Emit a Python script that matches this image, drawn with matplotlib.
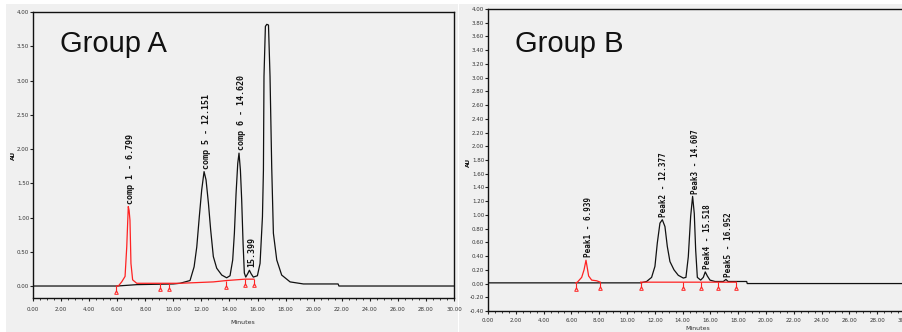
import numpy as np
import matplotlib
matplotlib.use("Agg")
import matplotlib.pyplot as plt
from matplotlib.patches import Rectangle
from matplotlib.ticker import MultipleLocator, FormatStrFormatter

# ---- Group A (left chromatogram), minutes / AU ----
a_black_t = [0, 6.0, 7.4, 10.0, 10.48, 11.19, 11.48, 11.67, 11.85, 12.02, 12.19, 12.33,
             12.50, 12.66, 12.85, 13.09, 13.45, 13.80, 14.04, 14.23, 14.35, 14.47, 14.59,
             14.68, 14.78, 14.87, 14.97, 15.06, 15.16, 15.30, 15.42, 15.54, 15.70, 15.99,
             16.18, 16.35, 16.42, 16.46, 16.56, 16.66, 16.78, 16.89, 17.01, 17.13, 17.37,
             17.72, 18.32, 19.27, 21.74, 21.80, 30.0]
a_black_v = [0, 0, 0.02, 0.03, 0.04, 0.08, 0.28, 0.57, 1.01, 1.40, 1.67, 1.55,
             1.21, 0.82, 0.43, 0.26, 0.16, 0.12, 0.15, 0.38, 0.77, 1.35, 1.79,
             1.94, 1.69, 1.26, 0.62, 0.19, 0.13, 0.18, 0.23, 0.18, 0.13, 0.15,
             0.33, 1.01, 1.69, 3.06, 3.79, 3.82, 3.81, 3.06, 1.74, 0.77, 0.38,
             0.16, 0.06, 0.03, 0.03, 0.0, 0.0]
a_red_t = [5.94, 6.08, 6.32, 6.56, 6.68, 6.79, 6.85, 6.91, 6.98, 7.10, 7.39, 7.86,
           10.5, 12.85, 13.80, 15.11, 15.74]
a_red_v = [0, 0, 0.06, 0.14, 0.57, 1.16, 1.10, 0.96, 0.33, 0.09, 0.04, 0.04,
           0.04, 0.06, 0.08, 0.10, 0.10]
a_marks = [5.94, 9.03, 9.70, 13.74, 15.14, 15.74]
a_peak_t = [6.79, 12.19, 14.68, 15.42]
a_peak_v = [1.16, 1.67, 1.94, 0.23]
a_labels = ["comp 1 - 6.799", "comp 5 - 12.151", "comp 6 - 14.620", "15.399"]

# ---- Group B (right chromatogram) ----
b_black_t = [0, 11.0, 11.41, 11.77, 12.01, 12.18, 12.37, 12.54, 12.73, 12.90, 13.09,
             13.38, 13.69, 14.05, 14.24, 14.41, 14.58, 14.72, 14.84, 14.94, 15.06,
             15.30, 15.49, 15.63, 15.78, 15.97, 16.33, 16.93, 17.12, 17.27, 18.61,
             18.65, 30.0]
b_black_v = [0.01, 0.01, 0.03, 0.09, 0.25, 0.59, 0.88, 0.93, 0.83, 0.54, 0.32,
             0.20, 0.12, 0.08, 0.09, 0.39, 0.98, 1.27, 1.02, 0.49, 0.09,
             0.05, 0.09, 0.17, 0.11, 0.05, 0.03, 0.03, 0.06, 0.03, 0.03,
             0.0, 0.0]
b_red_t = [6.31, 6.43, 6.74, 6.91, 7.05, 7.15, 7.24, 7.46, 7.82, 8.08, np.nan,
           10.98, 17.87]
b_red_v = [0.01, 0.02, 0.09, 0.20, 0.34, 0.22, 0.11, 0.05, 0.04, 0.02, np.nan,
           0.02, 0.02]
b_marks = [6.31, 8.08, 10.98, 14.03, 15.35, 16.55, 17.87]
b_peak_t = [7.05, 12.45, 14.72, 15.63, 17.12]
b_peak_v = [0.34, 0.93, 1.27, 0.17, 0.06]
b_labels = ["Peak1 - 6.939", "Peak2 - 12.377", "Peak3 - 14.607",
            "Peak4 - 15.518", "Peak5 - 16.952"]

W, H = 903, 332
BG = "#f0f0f0"
RED = "#ff2222"
tickfont = dict(family=["Liberation Sans Narrow", "DejaVu Sans"], size=4.0)

fig = plt.figure(figsize=(W / 100, H / 100), dpi=100, facecolor="white")
fig.patches.append(Rectangle((6 / W, 0), 452 / W, 328 / H, transform=fig.transFigure,
                             facecolor=BG, edgecolor="none", zorder=-5))
fig.patches.append(Rectangle((459 / W, 0), 444 / W, 328 / H, transform=fig.transFigure,
                             facecolor=BG, edgecolor="none", zorder=-5))


def style_axis(ax, ymajor, ylim, xlabpad):
    ax.set_facecolor(BG)
    ax.set_xlim(0, 30)
    ax.set_ylim(*ylim)
    ax.xaxis.set_major_locator(MultipleLocator(2))
    ax.xaxis.set_minor_locator(MultipleLocator(0.5))
    ax.yaxis.set_major_locator(MultipleLocator(ymajor))
    ax.xaxis.set_major_formatter(FormatStrFormatter("%.2f"))
    ax.yaxis.set_major_formatter(FormatStrFormatter("%.2f"))
    ax.tick_params(axis="both", which="major", length=2.2, width=0.8, color="#222")
    ax.tick_params(axis="x", which="major", pad=xlabpad)
    ax.tick_params(axis="y", which="major", pad=0.5)
    ax.tick_params(axis="x", which="minor", length=1.2, width=0.6, color="#222")
    for lab in ax.get_xticklabels() + ax.get_yticklabels():
        lab.set_fontfamily(tickfont["family"])
        lab.set_fontsize(tickfont["size"])
        lab.set_color("#333")
    for s in ax.spines.values():
        s.set_linewidth(1.0)
        s.set_color("#111")


def draw(ax, bt, bv, rt, rv, marks, pt, pv, labels, fsize):
    ax.plot(bt, bv, color="#111", lw=0.9, zorder=3)
    ax.plot(rt, rv, color=RED, lw=0.9, zorder=4)
    good = ~np.isnan(np.array(rt, dtype=float))
    base = np.interp(marks, np.array(rt)[good], np.array(rv)[good])
    ax.vlines(marks, base - 0.09, base, color=RED, lw=0.8, zorder=4)
    ax.plot(marks, base - 0.09, ls="none", marker="^", ms=2.6, mfc="none",
            mec=RED, mew=0.7, zorder=4)
    for x, y, s in zip(pt, pv, labels):
        ax.annotate(s, (x, y), xytext=(1.8, 2), textcoords="offset points",
                    rotation=90, ha="center", va="bottom", fontsize=fsize,
                    fontfamily="DejaVu Sans Mono", fontweight="bold", color="#111",
                    zorder=5)


axA = fig.add_axes([33 / W, (H - 298) / H, 421 / W, 286 / H])
style_axis(axA, 0.5, (-0.175, 4.0), 4)
draw(axA, a_black_t, a_black_v, a_red_t, a_red_v, a_marks, a_peak_t, a_peak_v,
     a_labels, 6)

axB = fig.add_axes([488 / W, (H - 311) / H, 417 / W, 302 / H])
style_axis(axB, 0.2, (-0.40, 4.00), 3)
draw(axB, b_black_t, b_black_v, b_red_t, b_red_v, b_marks, b_peak_t, b_peak_v,
     b_labels, 5.5)

fig.text(60 / W, 1 - 52 / H, "Group A", fontsize=21, family="Liberation Sans",
         va="baseline", ha="left", color="#111")
fig.text(515 / W, 1 - 52 / H, "Group B", fontsize=21, family="Liberation Sans",
         va="baseline", ha="left", color="#111")

fig.text(243 / W, 1 - 322 / H, "Minutes", fontsize=4.5, ha="center", va="center",
         family=tickfont["family"], color="#333")
fig.text(698 / W, 1 - 328 / H, "Minutes", fontsize=4.5, ha="center", va="center",
         family=tickfont["family"], color="#333")
fig.text(13 / W, 1 - 155 / H, "AU", fontsize=4.2, rotation=90, ha="center",
         va="center", fontweight="bold", color="#111")
fig.text(468 / W, 1 - 162 / H, "AU", fontsize=4.2, rotation=90, ha="center",
         va="center", fontweight="bold", color="#111")

fig.savefig("out.png", dpi=100, facecolor="white")
